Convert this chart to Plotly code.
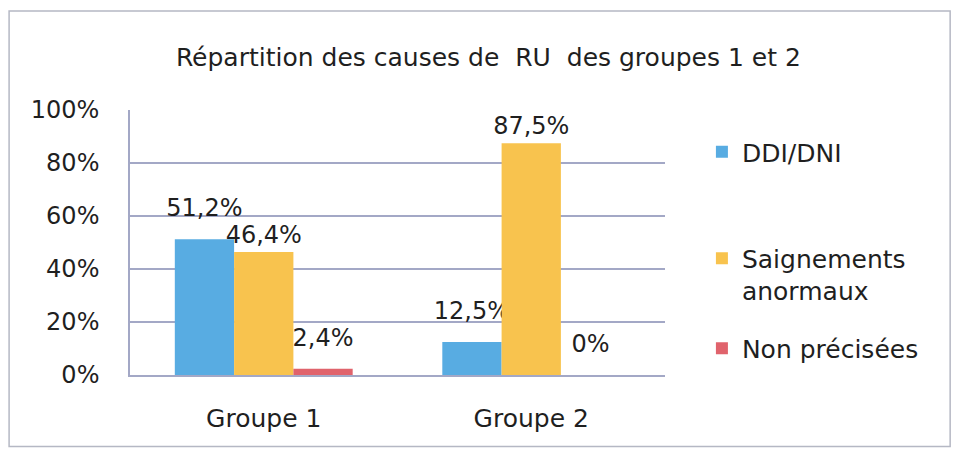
import plotly.graph_objects as go

categories = ["Groupe 1", "Groupe 2"]
series_names = ["DDI/DNI", "Saignements<br>anormaux", "Non précisées"]
ddi_dni = [51.2, 12.5]
saignements = [46.4, 87.5]
non_precisees = [2.4, 0.0]
y_ticks = [0, 20, 40, 60, 80, 100]
y_tick_labels = ["0%", "20%", "40%", "60%", "80%", "100%"]

colors = ["#58ACE2", "#F8C34E", "#E0636C"]
# extra blank line under the label (font size px) to lift it above the bar; 0 = none
label_lift = [13, 0, 13]
FONT = "DejaVu Sans, sans-serif"
TXT = "#1f1f1f"
GRID = "#A3A8C6"


def fmt(v, lift):
    s = "0%" if v == 0 else f"{v:.1f}".replace(".", ",") + "%"
    if lift:
        return f"<span style='font-size:24px'>{s}</span><br>\u00a0"
    return s


fig = go.Figure()
legends = ["legend", "legend2", "legend2"]
for i, (name, vals) in enumerate(zip(series_names, [ddi_dni, saignements, non_precisees])):
    fig.add_trace(go.Bar(
        x=categories, y=vals, name=name,
        marker=dict(color=colors[i], line=dict(width=0)),
        text=[fmt(v, label_lift[i]) for v in vals], textposition="outside",
        textfont=dict(size=label_lift[i] or 24, color=TXT, family=FONT),
        constraintext="none",
        cliponaxis=False, legend=legends[i], legendgroup=str(i),
    ))

fig.update_layout(
    width=955, height=444,
    margin=dict(l=122, r=298, t=102, b=77),
    paper_bgcolor="white", plot_bgcolor="white",
    barmode="group", bargap=0.335, bargroupgap=0,
    font=dict(family=FONT, size=24, color=TXT),
    title=dict(text="Répartition des causes de\u00a0 RU\u00a0 des groupes 1 et 2",
               x=0.503, xref="container", xanchor="center", y=0.89, yanchor="middle",
               font=dict(size=25, family=FONT, color=TXT)),
    showlegend=True,
    legend=dict(x=1.069, xanchor="left", y=0.8415, yanchor="middle",
                font=dict(size=25, family=FONT, color=TXT),
                bgcolor="rgba(0,0,0,0)"),
    legend2=dict(x=1.069, xanchor="left", y=0.27, yanchor="middle",
                 traceorder="grouped", tracegroupgap=22, valign="top",
                 font=dict(size=25, family=FONT, color=TXT),
                 bgcolor="rgba(0,0,0,0)"),
)
fig.update_xaxes(showgrid=False, showline=True, linecolor=GRID, linewidth=1.5,
                 ticks="", ticklabelstandoff=20, tickfont=dict(size=25))
fig.update_yaxes(range=[0, 100], tickvals=y_ticks, ticktext=y_tick_labels,
                 showgrid=True, gridcolor=GRID, gridwidth=1.5,
                 showline=True, linecolor=GRID, linewidth=1.5,
                 zeroline=False, ticks="", ticklabelstandoff=24,
                 tickfont=dict(size=24))
fig.add_shape(type="rect", xref="paper", yref="paper",
              x0=-0.226, x1=1.533, y0=-0.27, y1=1.374,
              line=dict(color="#B5B8C4", width=1.5), layer="below")

fig.write_html("out.html")
